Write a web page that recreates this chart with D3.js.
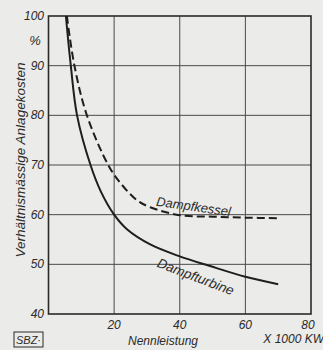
<!DOCTYPE html>
<html>
<head>
<meta charset="utf-8">
<script src="https://cdn.jsdelivr.net/npm/d3@7"></script>
<style>
  html, body { margin: 0; padding: 0; background: #ebebe9; }
  svg { display: block; }
  text { font-family: "Liberation Sans", "DejaVu Sans", sans-serif; font-style: italic; fill: #2a2a2a; }
</style>
</head>
<body>
<svg id="chart" width="323" height="350"></svg>
<script>
// Nennleistung (x 1000 kW) vs. relative cost (%)
const turbineX = [5.3, 6.8, 8.7, 12.8, 16, 20, 24, 31, 40, 49, 60, 70];
const turbineY = [100, 90, 80, 70, 64.6, 60, 57.0, 54.0, 51.6, 49.7, 47.5, 46.0];
const kesselX = [5.6, 7.9, 11.7, 18.2, 22, 27, 31, 40, 50, 60, 70];
const kesselY = [100, 90, 80, 70, 66.3, 62.9, 61.5, 59.9, 59.6, 59.4, 59.3];
const xTicks = [20, 40, 60, 80];
const yTicks = [40, 50, 60, 70, 80, 90, 100];

const svg = d3.select('#chart');
const x = d3.scaleLinear().domain([0, 80]).range([48.5, 311]);
const y = d3.scaleLinear().domain([40, 100]).range([314, 16]);

// grid
const grid = svg.append('g').attr('stroke', '#4a4a4a').attr('stroke-width', 1);
grid.selectAll('.vx').data([20, 40, 60]).join('line')
  .attr('x1', d => x(d)).attr('x2', d => x(d))
  .attr('y1', y(100)).attr('y2', y(40));
grid.selectAll('.hy').data([50, 60, 70, 80, 90]).join('line')
  .attr('x1', x(0)).attr('x2', x(80))
  .attr('y1', d => y(d)).attr('y2', d => y(d));

// frame
svg.append('rect')
  .attr('x', x(0)).attr('y', y(100))
  .attr('width', x(80) - x(0)).attr('height', y(40) - y(100))
  .attr('fill', 'none').attr('stroke', '#2a2a2a').attr('stroke-width', 1.6);

// curves
const line = d3.line().x(d => x(d[0])).y(d => y(d[1])).curve(d3.curveCatmullRom.alpha(0.5));
svg.append('path')
  .datum(d3.zip(turbineX, turbineY))
  .attr('d', line)
  .attr('fill', 'none').attr('stroke', '#1e1e1e').attr('stroke-width', 2);
svg.append('path')
  .datum(d3.zip(kesselX, kesselY))
  .attr('d', line)
  .attr('fill', 'none').attr('stroke', '#1e1e1e').attr('stroke-width', 2)
  .attr('stroke-dasharray', '8,4');

// tick labels
svg.selectAll('.yt').data(yTicks).join('text')
  .attr('x', 44).attr('y', d => y(d) + 4)
  .attr('text-anchor', 'end').attr('font-size', 12)
  .text(d => d);
svg.append('text').attr('x', 35).attr('y', 45)
  .attr('text-anchor', 'middle').attr('font-size', 13).text('%');

svg.selectAll('.xt').data(xTicks).join('text')
  .attr('x', d => x(d) - (d === 80 ? 3 : 0)).attr('y', 329)
  .attr('text-anchor', 'middle').attr('font-size', 12)
  .text(d => d);

// axis titles
svg.append('text')
  .attr('transform', 'translate(25,160) rotate(-90)')
  .attr('text-anchor', 'middle').attr('font-size', 13.5)
  .text('Verhältnismässige Anlagekosten');
svg.append('text').attr('x', 163).attr('y', 345)
  .attr('text-anchor', 'middle').attr('font-size', 12)
  .text('Nennleistung');
svg.append('text').attr('x', 324).attr('y', 343)
  .attr('text-anchor', 'end').attr('font-size', 12)
  .text('X 1000 KW');

// curve labels
svg.append('text')
  .attr('transform', 'translate(193,211) rotate(8)')
  .attr('text-anchor', 'middle').attr('font-size', 13)
  .text('Dampfkessel');
svg.append('text')
  .attr('transform', 'translate(194,281) rotate(21)')
  .attr('text-anchor', 'middle').attr('font-size', 13.5)
  .text('Dampfturbine');

// SBZ stamp
const stamp = svg.append('g').attr('transform', 'translate(14,332)');
stamp.append('rect').attr('width', 29).attr('height', 15)
  .attr('fill', 'none').attr('stroke', '#2a2a2a').attr('stroke-width', 1);
stamp.append('text').attr('x', 14.5).attr('y', 12)
  .attr('text-anchor', 'middle').attr('font-size', 11).attr('font-style', 'normal')
  .text('SBZ·');
</script>
</body>
</html>
